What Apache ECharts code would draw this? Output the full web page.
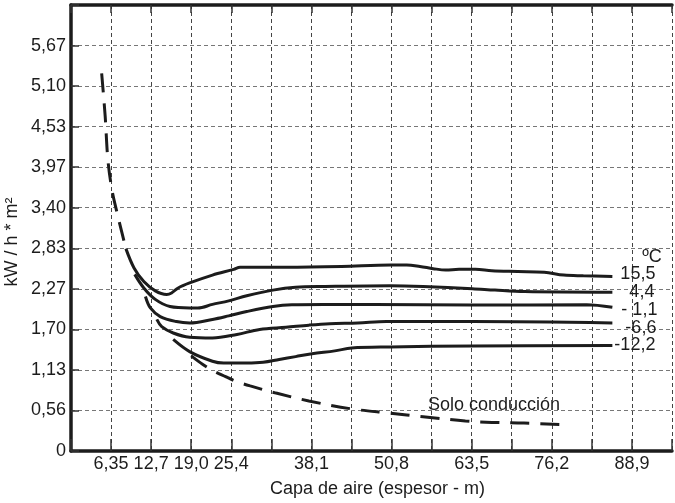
<!DOCTYPE html>
<html>
<head>
<meta charset="utf-8">
<script src="https://cdn.jsdelivr.net/npm/echarts@6/dist/echarts.min.js"></script>
<style>
html, body { margin: 0; padding: 0; background: #fff; }
#chart { width: 675px; height: 503px; }
</style>
</head>
<body>
<div id="chart"></div>
<script>
// axis steps and tick labels (decimal comma, as in the original)
const xStep = 6.35
const yStep = 0.567
const xTickLabels = ['', '6,35', '12,7', '19,0', '25,4', '', '38,1', '', '50,8', '', '63,5', '', '76,2', '', '88,9', '']
const yTickLabels = ['0', '0,56', '1,13', '1,70', '2,27', '2,83', '3,40', '3,97', '4,53', '5,10', '5,67', '']

// curve labels (temperature, ºC)
const tempLabels = ['15,5', '4,4', '- 1,1', '-6,6', '-12,2']

// [air gap, kW/h*m²]
const t155 = [[8.70, 2.83], [9.99, 2.56], [11.54, 2.37], [13.36, 2.24], [15.16, 2.19], [15.94, 2.21], [16.98, 2.28], [18.8, 2.35], [22.42, 2.46], [25.79, 2.54], [26.8, 2.57], [34.07, 2.57], [42.87, 2.58], [50.64, 2.60], [53.2, 2.60], [55.3, 2.58], [57.4, 2.55], [59.4, 2.53], [61.5, 2.54], [64.1, 2.54], [66.7, 2.52], [70.8, 2.51], [75.0, 2.50], [78.1, 2.46], [81.2, 2.45], [85.8, 2.44]]
const t44 = [[10.1, 2.47], [11.54, 2.28], [13.36, 2.12], [15.69, 2.02], [18.8, 2.00], [20.1, 2.00], [22.42, 2.05], [25.0, 2.10], [27.85, 2.17], [32.0, 2.25], [35.6, 2.29], [40.3, 2.30], [50.6, 2.31], [55.8, 2.30], [63.6, 2.27], [67.2, 2.25], [71.9, 2.23], [85.8, 2.22]]
const tm11 = [[11.8, 2.16], [12.58, 2.00], [14.14, 1.88], [16.71, 1.81], [18.8, 1.79], [22.42, 1.84], [25.0, 1.89], [27.85, 1.95], [32.0, 2.02], [35.0, 2.045], [40.0, 2.05], [48.05, 2.05], [63.6, 2.04], [81.7, 2.045], [85.8, 2.01]]
const tm66 = [[13.6, 1.84], [14.38, 1.74], [16.2, 1.65], [18.8, 1.59], [22.42, 1.58], [26.3, 1.63], [29.9, 1.70], [34.07, 1.73], [37.7, 1.76], [41.0, 1.78], [45.45, 1.79], [50.0, 1.81], [63.6, 1.81], [85.8, 1.79]]
const tm122 = [[16.2, 1.56], [18.8, 1.39], [22.42, 1.255], [24.2, 1.23], [27.85, 1.23], [30.45, 1.24], [33.0, 1.28], [35.6, 1.32], [38.2, 1.36], [41.8, 1.40], [44.5, 1.44], [50.6, 1.455], [63.6, 1.47], [85.8, 1.475]]

// conduction only (dashed), upper and lower pieces
const condTop = [[4.86, 5.28], [5.41, 4.69], [5.85, 4.07], [6.5, 3.65], [7.25, 3.35], [8.05, 3.06], [8.70, 2.83]]
const condBottom = [[19.05, 1.33], [20.9, 1.21], [22.7, 1.115], [24.5, 1.04], [26.0, 0.98], [28.4, 0.91], [32.5, 0.81], [37.7, 0.70], [44.4, 0.59], [50.6, 0.53], [55.8, 0.48], [62.5, 0.42], [66.7, 0.40], [71.8, 0.39], [77.6, 0.37]]

const font = 'Liberation Sans'
const ink = '#1c1c1c'

const chart = echarts.init(document.getElementById('chart'))

const tempSeries = [t155, t44, tm11, tm66, tm122]
// where each end label sits next to its curve
const endPos = [[8, -2], [17, 0], [9, 3], [13, 5], [2, 0]]

const series = tempSeries.map((d, i) => ({
    name: tempLabels[i],
    type: 'line',
    data: d,
    showSymbol: false,
    smooth: 0.35,
    lineStyle: {color: ink, width: 3},
    endLabel: {
        show: true,
        formatter: '{a}',
        distance: endPos[i][0],
        offset: [0, endPos[i][1]],
        fontFamily: font,
        fontSize: 18,
        color: ink
    }
}))

;[condTop, condBottom].forEach(d => {
    series.push({
        name: 'Solo conducción',
        type: 'line',
        data: d,
        showSymbol: false,
        smooth: 0.35,
        lineStyle: {color: ink, width: 3, type: [19, 11]}
    })
})

const option = {
    animation: false,
    backgroundColor: '#fff',
    grid: {left: 71, right: -9, top: 5, bottom: 51},
    xAxis: [
        {
            type: 'value',
            min: 0,
            max: 95.25,
            interval: xStep,
            name: 'Capa de aire (espesor - m)',
            nameLocation: 'middle',
            nameGap: 29,
            nameTextStyle: {fontFamily: font, fontSize: 18, color: ink, padding: [0, 0, 0, 12]},
            axisLine: {lineStyle: {color: ink, width: 3.5}},
            axisTick: {inside: true, length: 12, lineStyle: {color: '#333', width: 1.5}},
            axisLabel: {
                margin: 4,
                fontFamily: font,
                fontSize: 18,
                color: ink,
                formatter: v => xTickLabels[Math.round(v / xStep)] || ''
            },
            splitLine: {show: true, lineStyle: {color: '#444', width: 1, type: [4, 3]}}
        },
        {
            type: 'value',
            position: 'top',
            min: 0,
            max: 95.25,
            interval: xStep,
            axisLine: {lineStyle: {color: ink, width: 3.5}},
            axisTick: {inside: true, length: 8, lineStyle: {color: '#333', width: 1.5}},
            axisLabel: {show: false},
            splitLine: {show: false}
        }
    ],
    yAxis: {
        type: 'value',
        min: 0,
        max: 11 * yStep,
        interval: yStep,
        axisLine: {show: true, lineStyle: {color: ink, width: 3.5}},
        axisTick: {show: true, inside: true, length: 8, lineStyle: {color: '#333', width: 1.5}},
        axisLabel: {
            margin: 5,
            fontFamily: font,
            fontSize: 18,
            color: ink,
            formatter: v => yTickLabels[Math.round(v / yStep)] || ''
        },
        splitLine: {show: true, lineStyle: {color: '#777', width: 1, type: [4, 3]}}
    },
    graphic: [
        {
            type: 'text',
            x: 12,
            y: 242,
            rotation: Math.PI / 2,
            style: {text: 'kW / h * m²', font: '18px ' + font, fill: ink, align: 'center', verticalAlign: 'middle'}
        },
        {
            type: 'text',
            x: 652,
            y: 257,
            style: {text: 'ºC', font: '18px ' + font, fill: ink, align: 'center', verticalAlign: 'middle'}
        },
        {
            type: 'text',
            x: 428,
            y: 405,
            style: {text: 'Solo conducción', font: '18px ' + font, fill: ink, align: 'left', verticalAlign: 'middle'}
        }
    ],
    series: series
}

chart.setOption(option)
</script>
</body>
</html>
